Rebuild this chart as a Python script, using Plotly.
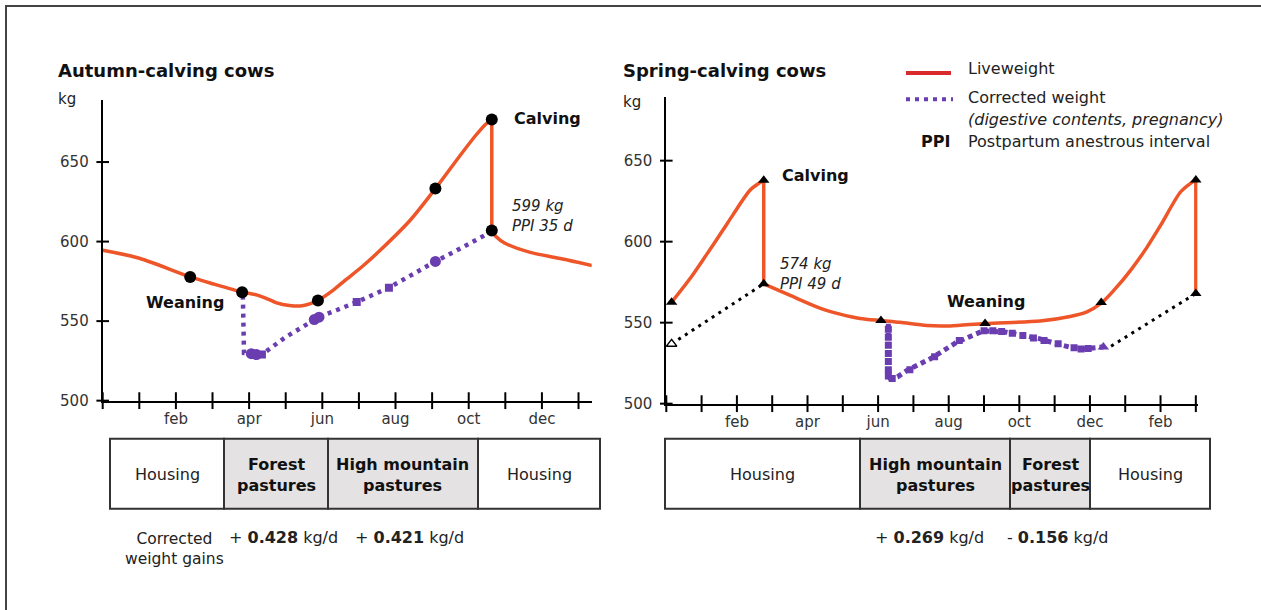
import plotly.graph_objects as go

W, H = 1261, 610
FIG_H = 620

# ---------------- data ----------------
left_month_ticks = list(range(0, 14))
right_month_ticks = list(range(0, 16))
left_label_vals = [2, 4, 6, 8, 10, 12]
left_label_text = ["feb", "apr", "jun", "aug", "oct", "dec"]
right_label_vals = [2, 4, 6, 8, 10, 12, 14]
right_label_text = ["feb", "apr", "jun", "aug", "oct", "dec", "feb"]
kg_ticks = [500, 550, 600, 650]
kg_labels = ["500", "550", "600", "650"]

# Autumn-calving cows
aut_live_x = [0, 1.0, 2.39, 3.0, 3.81, 4.2, 4.45, 4.75, 5.1, 5.45, 5.88, 6.3, 6.62, 7.1,
              7.58, 8.4, 9.09, 9.77, 10.2, 10.45, 10.63, 10.63, 10.75, 10.99, 11.68, 12.5, 13.37]
aut_live_y = [594.5, 589.5, 577.8, 573.5, 568.2, 566.5, 564.5, 561.5, 559.8, 559.6, 563.0, 569.5,
              575.6, 584.5, 594.5, 613.4, 633.3, 654.3, 667.0, 673.5, 676.7, 607.0, 603.0, 599.0,
              593.2, 589.4, 585.0]
aut_corr_x = [3.83, 3.86, 4.06, 4.35, 5.0, 5.5, 5.91, 6.4, 6.94, 7.82, 8.5, 9.09, 9.8, 10.6]
aut_corr_y = [566.0, 530.0, 529.5, 529.0, 540.0, 547.0, 552.5, 557.0, 562.0, 571.0, 580.0,
              587.5, 596.0, 606.0]
aut_event_x = [2.39, 3.81, 5.88, 9.09, 10.63, 10.63]
aut_event_y = [577.8, 568.2, 563.0, 633.3, 676.7, 607.0]
aut_corr_dot_x = [4.06, 4.2, 5.78, 5.91, 9.09]
aut_corr_dot_y = [529.5, 529.0, 551.0, 552.5, 587.5]
aut_corr_sq_x = [4.35, 6.94, 7.82]
aut_corr_sq_y = [529.0, 562.0, 571.0]

# Spring-calving cows
spr_live_x = [0.15, 0.7, 1.14, 1.6, 1.9, 2.37, 2.62, 2.76, 2.76, 3.51, 4.35, 4.92, 5.49, 6.08,
              6.62, 7.38, 8.04, 9.03, 10.59, 11.44, 11.9, 12.32, 12.7, 13.14, 13.6, 14.0, 14.56,
              14.85, 15.0, 15.0]
spr_live_y = [562.6, 578.0, 592.0, 607.0, 617.0, 631.7, 636.0, 637.9, 574.0, 566.8, 559.0,
              555.3, 552.6, 551.3, 550.2, 548.2, 548.0, 549.5, 551.0, 553.8, 556.5, 562.0,
              570.5, 582.0, 596.0, 610.0, 630.5, 636.0, 638.0, 568.0]
spr_corr_x = [6.29, 6.29, 6.35, 6.55, 6.81, 7.47, 8.23, 8.98, 9.64, 10.2, 10.59, 11.06, 11.5,
              11.81, 12.1, 12.38]
spr_corr_y = [549.3, 517.0, 515.3, 516.5, 520.4, 527.6, 537.9, 545.0, 544.1, 542.0, 540.0,
              536.9, 534.5, 533.8, 534.5, 535.0]
spr_pre_x = [0.15, 2.76]
spr_pre_y = [536.9, 574.0]
spr_post_x = [12.6, 15.0]
spr_post_y = [535.5, 568.0]
spr_event_x = [0.15, 2.76, 2.76, 6.08, 9.03, 12.32, 15.0, 15.0]
spr_event_y = [562.6, 637.9, 574.0, 551.3, 549.5, 562.5, 638.0, 568.0]
spr_corr_sq_x = [6.29, 6.29, 6.29, 6.29, 6.29, 6.29, 6.29, 6.4, 6.9, 7.6, 8.3, 9.0, 9.25, 9.5,
                 9.8, 10.1, 10.4, 10.7, 11.1, 11.55, 11.75, 11.95]
spr_corr_sq_y = [546.0, 541.0, 536.0, 531.0, 526.0, 521.0, 517.0, 515.5, 521.0, 529.0, 539.0,
                 545.0, 545.0, 544.5, 543.5, 542.0, 540.5, 539.0, 537.0, 534.5, 533.8, 534.0]

left_table_edges = [110, 224, 328, 478, 600]
left_table_labels = ["Housing", "<b>Forest<br>pastures</b>", "<b>High mountain<br>pastures</b>", "Housing"]
left_table_fill = ["white", "#E4E2E2", "#E4E2E2", "white"]
right_table_edges = [665, 860, 1010, 1090, 1210]
right_table_labels = ["Housing", "<b>High mountain<br>pastures</b>", "<b>Forest<br>pastures</b>", "Housing"]
right_table_fill = ["white", "#E4E2E2", "#E4E2E2", "white"]
gains_left = ["+ <b>0.428</b> kg/d", "+ <b>0.421</b> kg/d"]
gains_left_px = [283, 409]
gains_right = ["+ <b>0.269</b> kg/d", "- <b>0.156</b> kg/d"]
gains_right_px = [929, 1058]

# ---------------- styles ----------------
LIVE = "#EE5528"
CORR = "#6A3DB0"
FONT = "DejaVu Sans"
TXT = "#222222"


def px_x(px):
    return px / W


def px_y(py):
    return 1 - py / H


def split_at_drops(xs, ys):
    """Split a curve into smooth pieces and straight vertical drops (repeated x values)."""
    pieces = []
    start = 0
    for i in range(len(xs) - 1):
        if xs[i] == xs[i + 1]:
            pieces.append((xs[start:i + 1], ys[start:i + 1]))
            pieces.append((xs[i:i + 2], ys[i:i + 2]))
            start = i + 1
    pieces.append((xs[start:], ys[start:]))
    return [p for p in pieces if len(p[0]) >= 2]


fig = go.Figure()


def add_smooth(xs, ys, line, xa, ya):
    for px_, py_ in split_at_drops(xs, ys):
        fig.add_trace(go.Scatter(x=px_, y=py_, mode="lines", cliponaxis=False,
                                 line=dict(shape="spline", smoothing=0.8, **line),
                                 xaxis=xa, yaxis=ya, hoverinfo="skip"))


# ---- autumn chart ----
add_smooth(aut_live_x, aut_live_y, dict(color=LIVE, width=3.5), "x", "y")
fig.add_trace(go.Scatter(x=aut_corr_x, y=aut_corr_y, mode="lines",
                         line=dict(color=CORR, width=4.5, dash="4px,5px"), xaxis="x", yaxis="y"))
fig.add_trace(go.Scatter(x=aut_corr_dot_x, y=aut_corr_dot_y, mode="markers",
                         marker=dict(color=CORR, size=11, symbol="circle"), xaxis="x", yaxis="y"))
fig.add_trace(go.Scatter(x=aut_corr_sq_x, y=aut_corr_sq_y, mode="markers",
                         marker=dict(color=CORR, size=8, symbol="square"), xaxis="x", yaxis="y"))
fig.add_trace(go.Scatter(x=aut_event_x, y=aut_event_y, mode="markers", cliponaxis=False,
                         marker=dict(color="black", size=12, symbol="circle"), xaxis="x", yaxis="y"))

# ---- spring chart ----
fig.add_trace(go.Scatter(x=spr_pre_x, y=spr_pre_y, mode="lines",
                         line=dict(color="black", width=3, dash="3px,5px"), xaxis="x2", yaxis="y2"))
fig.add_trace(go.Scatter(x=spr_post_x, y=spr_post_y, mode="lines", cliponaxis=False,
                         line=dict(color="black", width=3, dash="3px,5px"), xaxis="x2", yaxis="y2"))
add_smooth(spr_live_x, spr_live_y, dict(color=LIVE, width=3.5), "x2", "y2")
fig.add_trace(go.Scatter(x=spr_corr_x, y=spr_corr_y, mode="lines",
                         line=dict(color=CORR, width=5, dash="5px,4px"), xaxis="x2", yaxis="y2"))
fig.add_trace(go.Scatter(x=spr_corr_sq_x, y=spr_corr_sq_y, mode="markers",
                         marker=dict(color=CORR, size=7, symbol="square"), xaxis="x2", yaxis="y2"))
fig.add_trace(go.Scatter(x=[spr_corr_x[-1]], y=[spr_corr_y[-1]], mode="markers",
                         marker=dict(color=CORR, size=10, symbol="triangle-up"), xaxis="x2", yaxis="y2"))
fig.add_trace(go.Scatter(x=spr_event_x, y=spr_event_y, mode="markers", cliponaxis=False,
                         marker=dict(color="black", size=10, symbol="triangle-up"), xaxis="x2", yaxis="y2"))
fig.add_trace(go.Scatter(x=[spr_pre_x[0]], y=[spr_pre_y[0]], mode="markers", cliponaxis=False,
                         marker=dict(color="white", size=9, symbol="triangle-up",
                                     line=dict(color="black", width=1.5)), xaxis="x2", yaxis="y2"))

# ---- crossing tick marks (from tick lists) ----
fig.add_trace(go.Scatter(x=left_month_ticks, y=[kg_ticks[0]] * len(left_month_ticks), mode="markers",
                         cliponaxis=False, hoverinfo="skip",
                         marker=dict(symbol="line-ns", size=12, line=dict(color="black", width=2)),
                         xaxis="x", yaxis="y"))
fig.add_trace(go.Scatter(x=[0] * len(kg_ticks), y=kg_ticks, mode="markers",
                         cliponaxis=False, hoverinfo="skip",
                         marker=dict(symbol="line-ew", size=9, line=dict(color="black", width=2)),
                         xaxis="x", yaxis="y"))
fig.add_trace(go.Scatter(x=right_month_ticks, y=[kg_ticks[0]] * len(right_month_ticks), mode="markers",
                         cliponaxis=False, hoverinfo="skip",
                         marker=dict(symbol="line-ns", size=12, line=dict(color="black", width=2)),
                         xaxis="x2", yaxis="y2"))
fig.add_trace(go.Scatter(x=[0] * len(kg_ticks), y=kg_ticks, mode="markers",
                         cliponaxis=False, hoverinfo="skip",
                         marker=dict(symbol="line-ew", size=9, line=dict(color="black", width=2)),
                         xaxis="x2", yaxis="y2"))

# ---------------- axes ----------------
axis_common = dict(showgrid=False, zeroline=False, showline=True, linecolor="black", linewidth=2,
                   ticks="", tickfont=dict(family=FONT, size=15, color="#333333"), fixedrange=True)

L_X0, L_X1 = 102.7, 591.7
R_X0, R_X1 = 666.3, 1197.6
fig.update_layout(
    xaxis=dict(domain=[px_x(L_X0), px_x(L_X1)], range=[0, 13.36], anchor="y",
               tickmode="array", tickvals=left_label_vals, ticktext=left_label_text,
               ticklabelstandoff=3, **axis_common),
    yaxis=dict(domain=[px_y(400), px_y(100)], range=[500, 688.9], anchor="x",
               tickmode="array", tickvals=kg_ticks, ticktext=kg_labels,
               ticklabelstandoff=9, **axis_common),
    xaxis2=dict(domain=[px_x(R_X0), px_x(R_X1)], range=[0, 15.05], anchor="y2",
                tickmode="array", tickvals=right_label_vals, ticktext=right_label_text,
                ticklabelstandoff=3, **axis_common),
    yaxis2=dict(domain=[px_y(403), px_y(97)], range=[500, 689.2], anchor="x2",
                tickmode="array", tickvals=kg_ticks, ticktext=kg_labels,
                ticklabelstandoff=9, **axis_common),
)

shapes = []
annotations = []

# outer frame (top and left edges visible)
shapes.append(dict(type="rect", xref="paper", yref="paper", x0=px_x(6), x1=px_x(W + 20),
                   y0=px_y(H + 30), y1=px_y(6), line=dict(color="#444444", width=2)))


def ann(text, x, y, xref="paper", yref="paper", size=15, xanchor="left", yanchor="middle",
        color=TXT, align="left"):
    annotations.append(dict(text=text, x=x, y=y, xref=xref, yref=yref, showarrow=False,
                            xanchor=xanchor, yanchor=yanchor, align=align,
                            font=dict(family=FONT, size=size, color=color)))


# titles and units
ann("<b>Autumn-calving cows</b>", px_x(56), px_y(70), size=18, color="#111111")
ann("<b>Spring-calving cows</b>", px_x(621), px_y(70), size=18, color="#111111")
ann("kg", px_x(56), px_y(99), size=15)
ann("kg", px_x(621), px_y(102), size=15)

# in-chart labels (data coordinates)
ann("<b>Calving</b>", 11.18, 677.5, xref="x", yref="y", size=16, color="#111111")
ann("<i>599 kg<br>PPI 35 d</i>", 11.13, 616.0, xref="x", yref="y", size=15)
ann("<b>Weaning</b>", 2.25, 561.7, xref="x", yref="y", size=16, xanchor="center", color="#111111")
ann("<b>Calving</b>", 3.22, 641.0, xref="x2", yref="y2", size=16, color="#111111")
ann("<i>574 kg<br>PPI 49 d</i>", 3.16, 580.0, xref="x2", yref="y2", size=15)
ann("<b>Weaning</b>", 9.06, 563.0, xref="x2", yref="y2", size=16, xanchor="center", color="#111111")

# legend
shapes.append(dict(type="line", xref="paper", yref="paper", x0=px_x(906), x1=px_x(951),
                   y0=px_y(73), y1=px_y(73), line=dict(color="#D92B2B", width=4)))
shapes.append(dict(type="line", xref="paper", yref="paper", x0=px_x(906), x1=px_x(953),
                   y0=px_y(99), y1=px_y(99), line=dict(color=CORR, width=4, dash="4px,5px")))
ann("Liveweight", px_x(966), px_y(68), size=16)
ann("Corrected weight", px_x(966), px_y(97), size=16)
ann("<i>(digestive contents, pregnancy)</i>", px_x(966), px_y(119), size=16)
ann("<b>PPI</b>", px_x(952), px_y(141), size=16, xanchor="right", color="#111111")
ann("Postpartum anestrous interval", px_x(966), px_y(141), size=16)

# tables
TOP, BOT = 438, 508
for edges, labels, fills in [(left_table_edges, left_table_labels, left_table_fill),
                             (right_table_edges, right_table_labels, right_table_fill)]:
    for i, lab in enumerate(labels):
        shapes.append(dict(type="rect", xref="paper", yref="paper",
                           x0=px_x(edges[i]), x1=px_x(edges[i + 1]), y0=px_y(BOT), y1=px_y(TOP),
                           fillcolor=fills[i], line=dict(color="#333333", width=2), layer="below"))
        bold = lab.startswith("<b>")
        ann(lab, px_x((edges[i] + edges[i + 1]) / 2), px_y((TOP + BOT) / 2 + 1),
            size=16, xanchor="center", align="center",
            color="#111111" if bold else TXT)

# weight gains
ann("Corrected<br>weight gains", px_x(174), px_y(548), size=15.5, xanchor="center", align="center")
for t, p in zip(gains_left, gains_left_px):
    ann(t, px_x(p), px_y(537), size=16, xanchor="center")
for t, p in zip(gains_right, gains_right_px):
    ann(t, px_x(p), px_y(537), size=16, xanchor="center")

fig.update_layout(
    width=W, height=FIG_H, margin=dict(l=0, r=0, t=0, b=0),
    paper_bgcolor="white", plot_bgcolor="rgba(0,0,0,0)",
    showlegend=False, shapes=shapes, annotations=annotations,
    font=dict(family=FONT, color=TXT),
)

fig.write_html("out.html", config={"displayModeBar": False},
               post_script="document.body.style.margin='0';document.body.style.overflow='hidden';")
